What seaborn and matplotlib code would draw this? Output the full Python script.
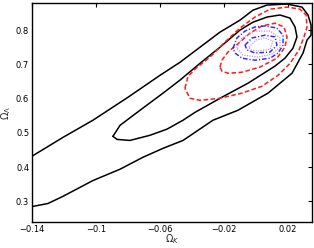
import numpy as np
import pandas as pd
import matplotlib
matplotlib.use("Agg")
import matplotlib.pyplot as plt
import seaborn as sns

# ---- contour vertices (Omega_K, Omega_Lambda) ----
black_outer_x = [-0.140, -0.1206, -0.1019, -0.080, -0.060, -0.0475, -0.035, -0.0225, -0.010, -0.0019,
                 0.0069, 0.0194, 0.0288, 0.0325, 0.0344, 0.0344, 0.0319, 0.0294, 0.0225, 0.0075,
                 -0.0113, -0.0269, -0.0456, -0.0581, -0.0706, -0.085, -0.1019, -0.1206, -0.130, -0.140]
black_outer_y = [0.432, 0.487, 0.537, 0.604, 0.668, 0.706, 0.750, 0.794, 0.829, 0.858,
                 0.873, 0.876, 0.867, 0.844, 0.815, 0.785, 0.771, 0.733, 0.674, 0.616,
                 0.566, 0.537, 0.478, 0.455, 0.429, 0.394, 0.361, 0.315, 0.294, 0.285]

black_inner_x = [-0.0894, -0.0869, -0.085, -0.0725, -0.0581, -0.0475, -0.035, -0.0225, -0.010, -0.0019,
                 0.0069, 0.015, 0.0212, 0.0244, 0.0256, 0.0231, 0.0181, 0.0119, -0.005, -0.0213,
                 -0.0381, -0.0456, -0.0556, -0.0663, -0.0788, -0.0869, -0.0894]
black_inner_y = [0.490, 0.508, 0.522, 0.566, 0.616, 0.654, 0.703, 0.750, 0.800, 0.823,
                 0.838, 0.844, 0.835, 0.809, 0.780, 0.747, 0.718, 0.695, 0.645, 0.604,
                 0.560, 0.537, 0.511, 0.493, 0.478, 0.481, 0.490]

red_outer_x = [-0.0444, -0.0425, -0.0381, -0.0288, -0.0194, -0.010, -0.0006, 0.0088, 0.0194, 0.0275,
               0.0313, 0.0319, 0.030, 0.0269, 0.0213, 0.0138, 0.0037, -0.0088, -0.0225, -0.035,
               -0.0413, -0.0444]
red_outer_y = [0.630, 0.665, 0.686, 0.721, 0.765, 0.806, 0.838, 0.861, 0.867, 0.861,
               0.844, 0.809, 0.780, 0.742, 0.703, 0.668, 0.636, 0.616, 0.601, 0.595,
               0.601, 0.630]

red_inner_x = [-0.0225, -0.0213, -0.0175, -0.010, -0.0038, 0.0037, 0.0119, 0.0175, 0.0194, 0.0181,
               0.0131, 0.0025, -0.0088, -0.0175, -0.0213, -0.0225]
red_inner_y = [0.692, 0.712, 0.736, 0.765, 0.791, 0.812, 0.820, 0.809, 0.780, 0.750,
               0.718, 0.692, 0.677, 0.674, 0.680, 0.692]

blue_outer_x = [-0.0144, -0.0119, -0.0069, -0.0006, 0.0056, 0.0131, 0.0169, 0.0169, 0.0138, 0.0088,
                -0.0006, -0.0088, -0.0131, -0.0144]
blue_outer_y = [0.747, 0.777, 0.797, 0.809, 0.812, 0.806, 0.785, 0.756, 0.733, 0.718,
                0.712, 0.718, 0.733, 0.747]

blue_inner_x = [-0.0069, -0.0025, 0.0056, 0.0119, 0.0131, 0.0088, -0.0006, -0.0056, -0.0069]
blue_inner_y = [0.756, 0.777, 0.785, 0.780, 0.756, 0.736, 0.733, 0.742, 0.756]

violet_outer_x = [-0.0119, -0.0088, -0.0006, 0.0088, 0.015, 0.015, 0.010, 0.0012, -0.0081, -0.0119]
violet_outer_y = [0.747, 0.777, 0.797, 0.797, 0.777, 0.750, 0.730, 0.721, 0.727, 0.747]

violet_inner_x = [-0.0044, 0.0, 0.0056, 0.0106, 0.0088, 0.0012, -0.0031, -0.0044]
violet_inner_y = [0.750, 0.771, 0.777, 0.768, 0.744, 0.739, 0.742, 0.750]

x_ticks = [-0.14, -0.1, -0.06, -0.02, 0.02]
x_tick_labels = ["\u22120.14", "\u22120.1", "\u22120.06", "\u22120.02", "0.02"]
y_ticks = [0.3, 0.4, 0.5, 0.6, 0.7, 0.8]
y_tick_labels = ["0.3", "0.4", "0.5", "0.6", "0.7", "0.8"]

sns.set_style("white")
plt.rcParams["font.family"] = ["DejaVu Sans"]

fig = plt.figure(figsize=(3.14, 2.48), dpi=100)
ax = fig.add_axes([32 / 314, 26 / 248, 280 / 314, 219 / 248])

contours = [
    (black_outer_x, black_outer_y, "black", "-", 1.1),
    (black_inner_x, black_inner_y, "black", "-", 1.1),
    (red_outer_x, red_outer_y, "#ff1a1a", (0, (3.0, 1.6)), 1.1),
    (red_inner_x, red_inner_y, "#ff1a1a", (0, (3.0, 1.6)), 1.1),
    (blue_outer_x, blue_outer_y, "#2a2aff", (0, (3.2, 1.3, 0.8, 1.3)), 1.05),
    (blue_inner_x, blue_inner_y, "#2a2aff", (0, (3.2, 1.3, 0.8, 1.3)), 1.05),
    (violet_outer_x, violet_outer_y, "#c98cff", (0, (0.8, 1.0)), 1.0),
    (violet_inner_x, violet_inner_y, "#c98cff", (0, (0.8, 1.0)), 1.0),
]
for i, (xs, ys, col, ls, lw) in enumerate(contours):
    df = pd.DataFrame({"x": xs, "y": ys})
    sns.lineplot(data=df, x="x", y="y", sort=False, estimator=None, ax=ax,
                 color=col, linestyle=ls, linewidth=lw)

ax.set_xlim(-0.14, 0.035)
ax.set_ylim(0.24, 0.879)
ax.set_xticks(x_ticks)
ax.set_xticklabels(x_tick_labels)
ax.set_yticks(y_ticks)
ax.set_yticklabels(y_tick_labels)
ax.tick_params(direction="in", length=3, width=0.8, labelsize=6, top=True, right=True,
               pad=2, colors="black")
for sp in ax.spines.values():
    sp.set_visible(True)
    sp.set_color("black")
    sp.set_linewidth(1.0)
ax.set_xlabel(r"$\Omega_K$", fontsize=7, labelpad=-1)
ax.set_ylabel(r"$\Omega_\Lambda$", fontsize=7, labelpad=2)

fig.savefig("out.png", dpi=100)
